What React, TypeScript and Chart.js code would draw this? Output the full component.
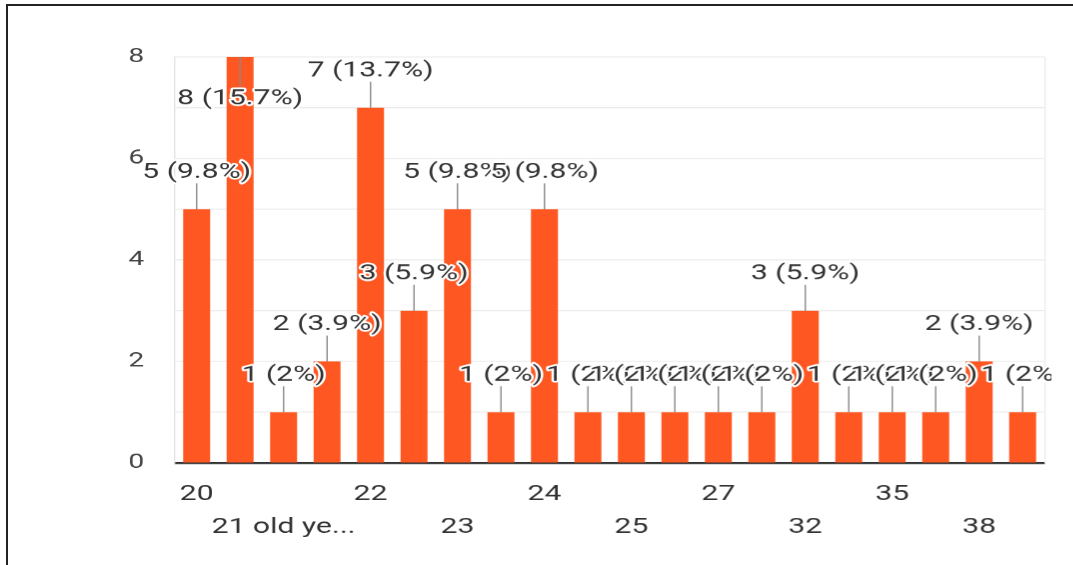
import { useEffect, useRef } from "react";
import { Chart, registerables } from "chart.js";

Chart.register(...registerables);

// Age answers (sorted as text, the way the form summary lists them)
const AGE_LABELS = [
  "20", "21", "21 old years", "21 years", "22", "22 years", "23", "23 years",
  "24", "24 years", "25", "26", "27", "30", "32", "33", "35", "36", "38", "40",
];
// Number of responses for each answer
const RESPONSE_COUNTS = [5, 8, 1, 2, 7, 3, 5, 1, 5, 1, 1, 1, 1, 1, 3, 1, 1, 1, 2, 1];
// Labelled values on the count axis
const Y_TICK_VALUES = [0, 2, 4, 6, 8];

const STAGE_W = 1073;
const STAGE_H = 565;
// The summary chart is drawn on a narrower canvas and widened horizontally
const H_STRETCH = 1.4;

const BAR_COLOR = "#ff5722";
const TEXT_COLOR = "#333333";
const LABEL_FONT_SIZE = 21.5;

function shorten(label: string): string {
  return label.length > 10 ? label.slice(0, 9) + "..." : label;
}

export default function App() {
  const canvasRef = useRef<HTMLCanvasElement | null>(null);

  useEffect(() => {
    const canvas = canvasRef.current;
    if (!canvas) return;

    Chart.defaults.font.family = "Roboto";

    const total = RESPONSE_COUNTS.reduce((a, b) => a + b, 0);
    const valueText = (v: number) => {
      const pct = ((v / total) * 100).toFixed(1).replace(/\.0$/, "");
      return `${v} (${pct}%)`;
    };

    const canvasW = STAGE_W / H_STRETCH;
    const plotLeft = 175 / H_STRETCH;
    const plotRight = 1045 / H_STRETCH;

    const frameLine = {
      id: "frameLine",
      beforeDatasetsDraw(chart: any) {
        const { ctx, chartArea } = chart;
        ctx.save();
        ctx.strokeStyle = "#ececec";
        ctx.lineWidth = 1;
        ctx.beginPath();
        ctx.moveTo(chartArea.right + 0.5, chartArea.top);
        ctx.lineTo(chartArea.right + 0.5, chartArea.bottom);
        ctx.stroke();
        ctx.restore();
      },
    };

    const valueLabels = {
      id: "valueLabels",
      afterDatasetsDraw(chart: any) {
        const { ctx, chartArea } = chart;
        const meta = chart.getDatasetMeta(0);
        ctx.save();
        ctx.beginPath();
        ctx.rect(0, 0, chartArea.right + 5, chart.height);
        ctx.clip();
        ctx.font = `${LABEL_FONT_SIZE}px Roboto`;
        ctx.textAlign = "center";
        ctx.textBaseline = "middle";
        ctx.lineJoin = "round";
        meta.data.forEach((bar: any, i: number) => {
          const v = RESPONSE_COUNTS[i];
          const { x, y } = bar.getProps(["x", "y"], true);
          const above = y - 49 >= chartArea.top - 4;
          const lineEnd = above ? y - 26 : y + 29;
          const textY = above ? y - 37 : y + 42;
          const text = valueText(v);

          ctx.strokeStyle = "#8a8a8a";
          ctx.lineWidth = 1;
          ctx.beginPath();
          ctx.moveTo(x, y);
          ctx.lineTo(x, lineEnd);
          ctx.stroke();

          ctx.strokeStyle = "#ffffff";
          ctx.lineWidth = 3.5;
          ctx.strokeText(text, x, textY);
          ctx.fillStyle = TEXT_COLOR;
          ctx.fillText(text, x, textY);
        });
        ctx.restore();
      },
    };

    const chart = new Chart(canvas, {
      type: "bar",
      data: {
        labels: AGE_LABELS,
        datasets: [
          {
            data: RESPONSE_COUNTS,
            backgroundColor: BAR_COLOR,
            borderWidth: 0,
            barPercentage: 0.62,
            categoryPercentage: 1,
          },
        ],
      },
      options: {
        responsive: true,
        maintainAspectRatio: false,
        animation: false,
        devicePixelRatio: H_STRETCH,
        layout: {
          padding: { top: 57, right: canvasW - plotRight, left: 0, bottom: 0 },
        },
        plugins: {
          legend: { display: false },
          tooltip: { enabled: false },
        },
        scales: {
          x: {
            grid: { display: false },
            border: { display: true, color: "#333333", width: 2 },
            ticks: {
              autoSkip: false,
              maxRotation: 0,
              minRotation: 0,
              padding: 7,
              color: TEXT_COLOR,
              font: { family: "Roboto", size: LABEL_FONT_SIZE, lineHeight: 33 / LABEL_FONT_SIZE },
              callback: (_v: any, i: number) => {
                const label = shorten(AGE_LABELS[i]);
                if (i % 4 === 0) return [label];
                if (i % 4 === 2) return ["", label];
                return "";
              },
            },
            afterFit: (scale: any) => {
              scale.height = STAGE_H - 463;
            },
          },
          y: {
            min: 0,
            max: 8,
            ticks: {
              stepSize: 1,
              padding: 22,
              color: "#444444",
              font: { family: "Roboto", size: 20 },
              callback: (v: any) => (Y_TICK_VALUES.includes(Number(v)) ? String(v) : ""),
            },
            grid: { color: "#ebebeb", drawTicks: false },
            border: { display: true, color: "#e3e3e3", width: 1 },
            afterFit: (scale: any) => {
              scale.width = plotLeft;
            },
          },
        },
      },
      plugins: [frameLine, valueLabels],
    } as any);

    return () => chart.destroy();
  }, []);

  return (
    <div
      style={{
        position: "absolute",
        left: 0,
        top: 0,
        width: STAGE_W,
        height: STAGE_H,
        background: "#ffffff",
        overflow: "hidden",
      }}
    >
      <div
        style={{
          position: "absolute",
          left: 0,
          top: 0,
          width: STAGE_W / H_STRETCH,
          height: STAGE_H,
          transform: `scaleX(${H_STRETCH})`,
          transformOrigin: "0 0",
        }}
      >
        <canvas ref={canvasRef} />
      </div>
      <div
        style={{
          position: "absolute",
          left: 6,
          top: 4,
          right: 0,
          bottom: 0,
          borderLeft: "2px solid #222222",
          borderTop: "2px solid #222222",
          pointerEvents: "none",
        }}
      />
    </div>
  );
}
